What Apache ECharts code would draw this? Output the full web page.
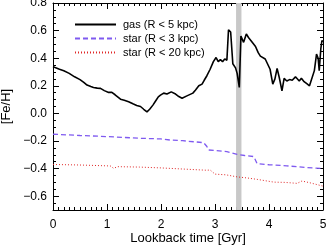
<!DOCTYPE html>
<html>
<head>
<meta charset="utf-8">
<script src="https://cdn.jsdelivr.net/npm/echarts@6/dist/echarts.min.js"></script>
<style>
html,body{margin:0;padding:0;background:#fff;}
#chart{width:327px;height:246px;}
</style>
</head>
<body>
<div id="chart"></div>
<script>
// ---- data ----
var seriesNames = ['gas (R < 5 kpc)', 'star (R < 3 kpc)', 'star (R < 20 kpc)'];

var gasX = [0.00,0.05,0.12,0.20,0.30,0.40,0.50,0.57,0.63,0.70,0.75,0.82,0.88,0.95,1.03,1.09,1.15,1.25,1.32,1.40,1.48,1.55,1.62,1.68,1.74,1.79,1.85,1.90,1.95,1.99,2.05,2.11,2.19,2.27,2.33,2.39,2.48,2.59,2.64,2.70,2.76,2.80,2.85,2.91,2.97,3.02,3.06,3.10,3.14,3.18,3.22,3.25,3.29,3.33,3.38,3.41,3.45,3.48,3.53,3.58,3.62,3.70,3.75,3.80,3.84,3.93,3.96,4.02,4.07,4.11,4.15,4.19,4.24,4.28,4.33,4.38,4.43,4.49,4.52,4.56,4.60,4.65,4.70,4.75,4.78,4.84,4.88,4.91,4.93,4.96,4.98,5.00];
var gasY = [0.340,0.330,0.320,0.309,0.290,0.265,0.245,0.225,0.205,0.195,0.188,0.183,0.181,0.165,0.152,0.152,0.135,0.103,0.095,0.084,0.070,0.058,0.050,0.030,0.011,0.030,0.060,0.090,0.120,0.132,0.147,0.140,0.156,0.140,0.122,0.110,0.127,0.147,0.170,0.200,0.212,0.240,0.273,0.320,0.375,0.405,0.375,0.390,0.375,0.395,0.385,0.605,0.590,0.360,0.330,0.290,0.188,0.560,0.515,0.576,0.550,0.510,0.485,0.440,0.415,0.394,0.380,0.320,0.212,0.250,0.326,0.260,0.164,0.254,0.235,0.245,0.240,0.265,0.260,0.235,0.255,0.230,0.215,0.200,0.200,0.310,0.430,0.400,0.310,0.470,0.527,0.520];

var star3X = [0.00,0.50,1.00,1.60,2.00,2.17,2.40,2.79,2.85,2.88,3.22,3.41,3.55,3.72,3.78,4.00,4.33,4.70,5.00];
var star3Y = [-0.151,-0.160,-0.168,-0.180,-0.185,-0.193,-0.198,-0.212,-0.240,-0.265,-0.277,-0.297,-0.305,-0.313,-0.364,-0.372,-0.380,-0.392,-0.400];

var star20X = [0.00,0.50,1.00,1.07,1.12,1.20,1.60,2.00,2.50,2.85,2.91,3.00,3.20,3.41,3.60,3.78,4.09,4.30,4.52,4.61,4.75,5.00];
var star20Y = [-0.370,-0.374,-0.380,-0.382,-0.398,-0.386,-0.389,-0.395,-0.405,-0.412,-0.410,-0.440,-0.445,-0.460,-0.468,-0.478,-0.498,-0.500,-0.507,-0.490,-0.502,-0.527];

var bandRange = [3.39, 3.49];
var yTickValues = [-0.6,-0.4,-0.2,0.0,0.2,0.4,0.6,0.8];
var xAxisTitle = 'Lookback time [Gyr]';
var yAxisTitle = '[Fe/H]';

// ---- chart ----
function pairs(xs, ys){ var o=[]; for (var i=0;i<xs.length;i++) o.push([xs[i], ys[i]]); return o; }
var yMinor = []; for (var k=-14;k<=16;k++) yMinor.push(+(k*0.05).toFixed(2));

var FONT = 'Liberation Sans';

function yAx(pos, major, labels){
  return {
    type:'value', min:-0.7, max:0.8, position:pos,
    axisLine:{show: major, onZero:false, lineStyle:{color:'#000', width:1}},
    axisTick:{show:true, inside:true, length: major?6:3, customValues: major?yTickValues:yMinor, lineStyle:{color:'#000'}},
    axisLabel:{show: labels, customValues: yTickValues, margin:6, color:'#000', fontSize:12, fontFamily:FONT,
      formatter:function(v){ return v.toFixed(1).replace('-', '\u2212'); }},
    splitLine:{show:false},
    name: labels ? yAxisTitle : '', nameLocation:'middle', nameGap:40, nameRotate:90, nameMoveOverlap:false,
    nameTextStyle:{color:'#000', fontSize:13, fontFamily:FONT}
  };
}
function xAx(pos, labels){
  return {
    type:'value', min:0, max:5, interval:1, position:pos,
    axisLine:{show:true, onZero:false, lineStyle:{color:'#000', width:1}},
    axisTick:{show:true, inside:true, length:6, lineStyle:{color:'#000'}},
    minorTick:{show:true, splitNumber:10, length:3, lineStyle:{color:'#000'}},
    axisLabel:{show:labels, margin:9, color:'#000', fontSize:12, fontFamily:FONT},
    splitLine:{show:false},
    name: labels ? xAxisTitle : '', nameLocation:'middle', nameGap:22, nameMoveOverlap:false,
    nameTextStyle:{color:'#000', fontSize:13, fontFamily:FONT}
  };
}

var chart = echarts.init(document.getElementById('chart'), null, {renderer:'canvas'});
chart.setOption({
  animation:false,
  backgroundColor:'#fff',
  grid:{left:53, right:4, top:3, bottom:36, containLabel:false, outerBoundsMode:'none'},
  xAxis:[xAx('bottom', true), xAx('top', false)],
  yAxis:[yAx('left', true, true), yAx('left', false, false), yAx('right', true, false), yAx('right', false, false)],
  legend:{
    orient:'vertical', left:69, top:14, itemWidth:41, itemHeight:8, itemGap:3,
    itemStyle:{opacity:0},
    textStyle:{color:'#000', fontSize:11, fontFamily:FONT, padding:[0,0,0,2]},
    data: seriesNames.map(function(n){ return {name:n}; })
  },
  series:[
    {type:'line', name:'band', data:[], z:1, silent:true,
     markArea:{silent:true, itemStyle:{color:'#c8c8c8'}, data:[[{xAxis:bandRange[0]},{xAxis:bandRange[1]}]]}},
    {type:'line', name:seriesNames[0], data:pairs(gasX, gasY), showSymbol:false, symbol:'none', z:3,
     lineStyle:{color:'#000', width:1.6}, itemStyle:{color:'#000'}},
    {type:'line', name:seriesNames[1], data:pairs(star3X, star3Y), showSymbol:false, symbol:'none', z:3,
     lineStyle:{color:'#7f5af0', width:1.3, type:[5,3]}, itemStyle:{color:'#7f5af0'}},
    {type:'line', name:seriesNames[2], data:pairs(star20X, star20Y), showSymbol:false, symbol:'none', z:3,
     lineStyle:{color:'#e02828', width:1, type:[1,2]}, itemStyle:{color:'#e02828'}}
  ]
});
</script>
</body>
</html>
